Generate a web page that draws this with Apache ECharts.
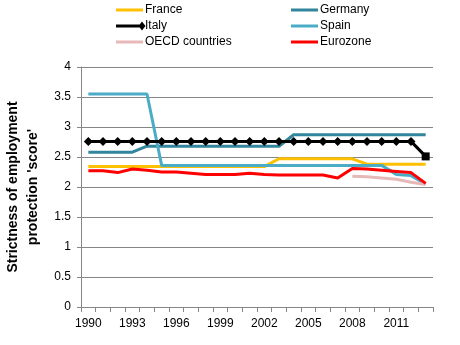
<!DOCTYPE html>
<html>
<head>
<meta charset="utf-8">
<script src="https://cdn.jsdelivr.net/npm/echarts@6/dist/echarts.min.js"></script>
<style>
  html, body { margin: 0; padding: 0; background: #fff; }
  #chart { width: 460px; height: 345px; }
</style>
</head>
<body>
<div id="chart"></div>
<script>
// Employment protection strictness index, 1990-2013
const years = ['1990','1991','1992','1993','1994','1995','1996','1997','1998','1999','2000','2001',
               '2002','2003','2004','2005','2006','2007','2008','2009','2010','2011','2012','2013'];

const france  = [2.34,2.34,2.34,2.34,2.34,2.34,2.34,2.34,2.34,2.34,2.34,2.34,
                 2.34,2.47,2.47,2.47,2.47,2.47,2.47,2.38,2.38,2.38,2.38,2.38];
const germany = [2.58,2.58,2.58,2.58,2.68,2.68,2.68,2.68,2.68,2.68,2.68,2.68,
                 2.68,2.68,2.87,2.87,2.87,2.87,2.87,2.87,2.87,2.87,2.87,2.87];
const italy   = [2.76,2.76,2.76,2.76,2.76,2.76,2.76,2.76,2.76,2.76,2.76,2.76,
                 2.76,2.76,2.76,2.76,2.76,2.76,2.76,2.76,2.76,2.76,2.76,2.51];
const spain   = [3.55,3.55,3.55,3.55,3.55,2.36,2.36,2.36,2.36,2.36,2.36,2.36,
                 2.36,2.36,2.36,2.36,2.36,2.36,2.36,2.36,2.36,2.21,2.19,2.05];
const oecd    = [null,null,null,null,null,null,null,null,null,null,null,null,
                 null,null,null,null,null,null,2.18,2.17,2.15,2.13,2.08,2.04];
const eurozone= [2.27,2.27,2.24,2.30,2.28,2.25,2.25,2.23,2.21,2.21,2.21,2.23,
                 2.21,2.20,2.20,2.20,2.20,2.15,2.31,2.30,2.28,2.26,2.24,2.06];

const colors = {
  France: '#FFC000', Germany: '#31859C', Italy: '#000000',
  Spain: '#4BACC6', 'OECD countries': '#E6B9B8', Eurozone: '#FF0000'
};

const font = 'Liberation Sans, Arial, sans-serif';

// Legend keys: a short thick stroke; Italy's key ends in a diamond.
// The leading moves pin the icon box to 30x10 so every key scales alike.
const lineIcon = 'path://M0,0 M30,10 M0,3.5 L27,3.5 L27,6.5 L0,6.5 Z';
const diamondIcon = 'path://M0,0 M30,10 M0,3.5 L26,3.5 L26,6.5 L0,6.5 Z M26,0.5 L29.5,5 L26,9.5 L22.5,5 Z';

function legendItem(name) {
  return { name: name, icon: name === 'Italy' ? diamondIcon : lineIcon };
}

function legendBlock(names, left) {
  return {
    data: names.map(legendItem),
    left: left, top: 3, orient: 'vertical', padding: 0,
    itemWidth: 30, itemHeight: 10, itemGap: 2,
    itemStyle: { borderWidth: 0 },
    textStyle: { fontFamily: font, fontSize: 12, color: '#000', lineHeight: 14, padding: [0, 0, 0, -6] },
    selectedMode: false
  };
}

function lineSeries(name, data, extra) {
  const color = colors[name];
  return Object.assign({
    name: name,
    type: 'line',
    data: data,
    showSymbol: false,
    symbol: 'none',
    lineStyle: { width: 3, color: color },
    itemStyle: { color: color },
    emphasis: { disabled: true },
    animation: false
  }, extra || {});
}

// Italy: diamond markers, last point drawn as a square
const italyData = italy.map((v, i) => i === italy.length - 1
  ? { value: v, symbol: 'rect', symbolSize: 8 }
  : v);

const chart = echarts.init(document.getElementById('chart'));
chart.setOption({
  animation: false,
  legend: [
    legendBlock(['France', 'Italy', 'OECD countries'], 116),
    legendBlock(['Germany', 'Spain', 'Eurozone'], 291)
  ],
  grid: { left: 81, right: 27, top: 67, bottom: 38, containLabel: false, outerBoundsMode: 'none' },
  xAxis: {
    type: 'category',
    data: years,
    boundaryGap: true,
    axisLine: { lineStyle: { color: '#868686', width: 1 } },
    axisTick: { show: true, interval: 0, length: 5, lineStyle: { color: '#868686' } },
    axisLabel: { interval: 2, fontFamily: font, fontSize: 12, color: '#000', margin: 11 },
    splitLine: { show: false }
  },
  yAxis: {
    type: 'value',
    min: 0, max: 4, interval: 0.5,
    name: "Strictness of employment\nprotection 'score'",
    nameLocation: 'middle',
    nameGap: 38,
    nameRotate: 90,
    nameTextStyle: { fontFamily: font, fontSize: 14, fontWeight: 'bold', color: '#000', lineHeight: 20 },
    axisLine: { show: true, lineStyle: { color: '#868686', width: 1 } },
    axisTick: { show: true, length: 4, lineStyle: { color: '#868686' } },
    axisLabel: { fontFamily: font, fontSize: 12, color: '#000', margin: 10 },
    splitLine: { show: true, lineStyle: { color: '#868686', width: 1 } }
  },
  series: [
    lineSeries('France', france),
    lineSeries('Germany', germany),
    lineSeries('Spain', spain),
    lineSeries('OECD countries', oecd),
    lineSeries('Eurozone', eurozone),
    lineSeries('Italy', italyData, {
      symbol: 'diamond', symbolSize: 9, showSymbol: true, z: 5
    })
  ]
});
</script>
</body>
</html>
